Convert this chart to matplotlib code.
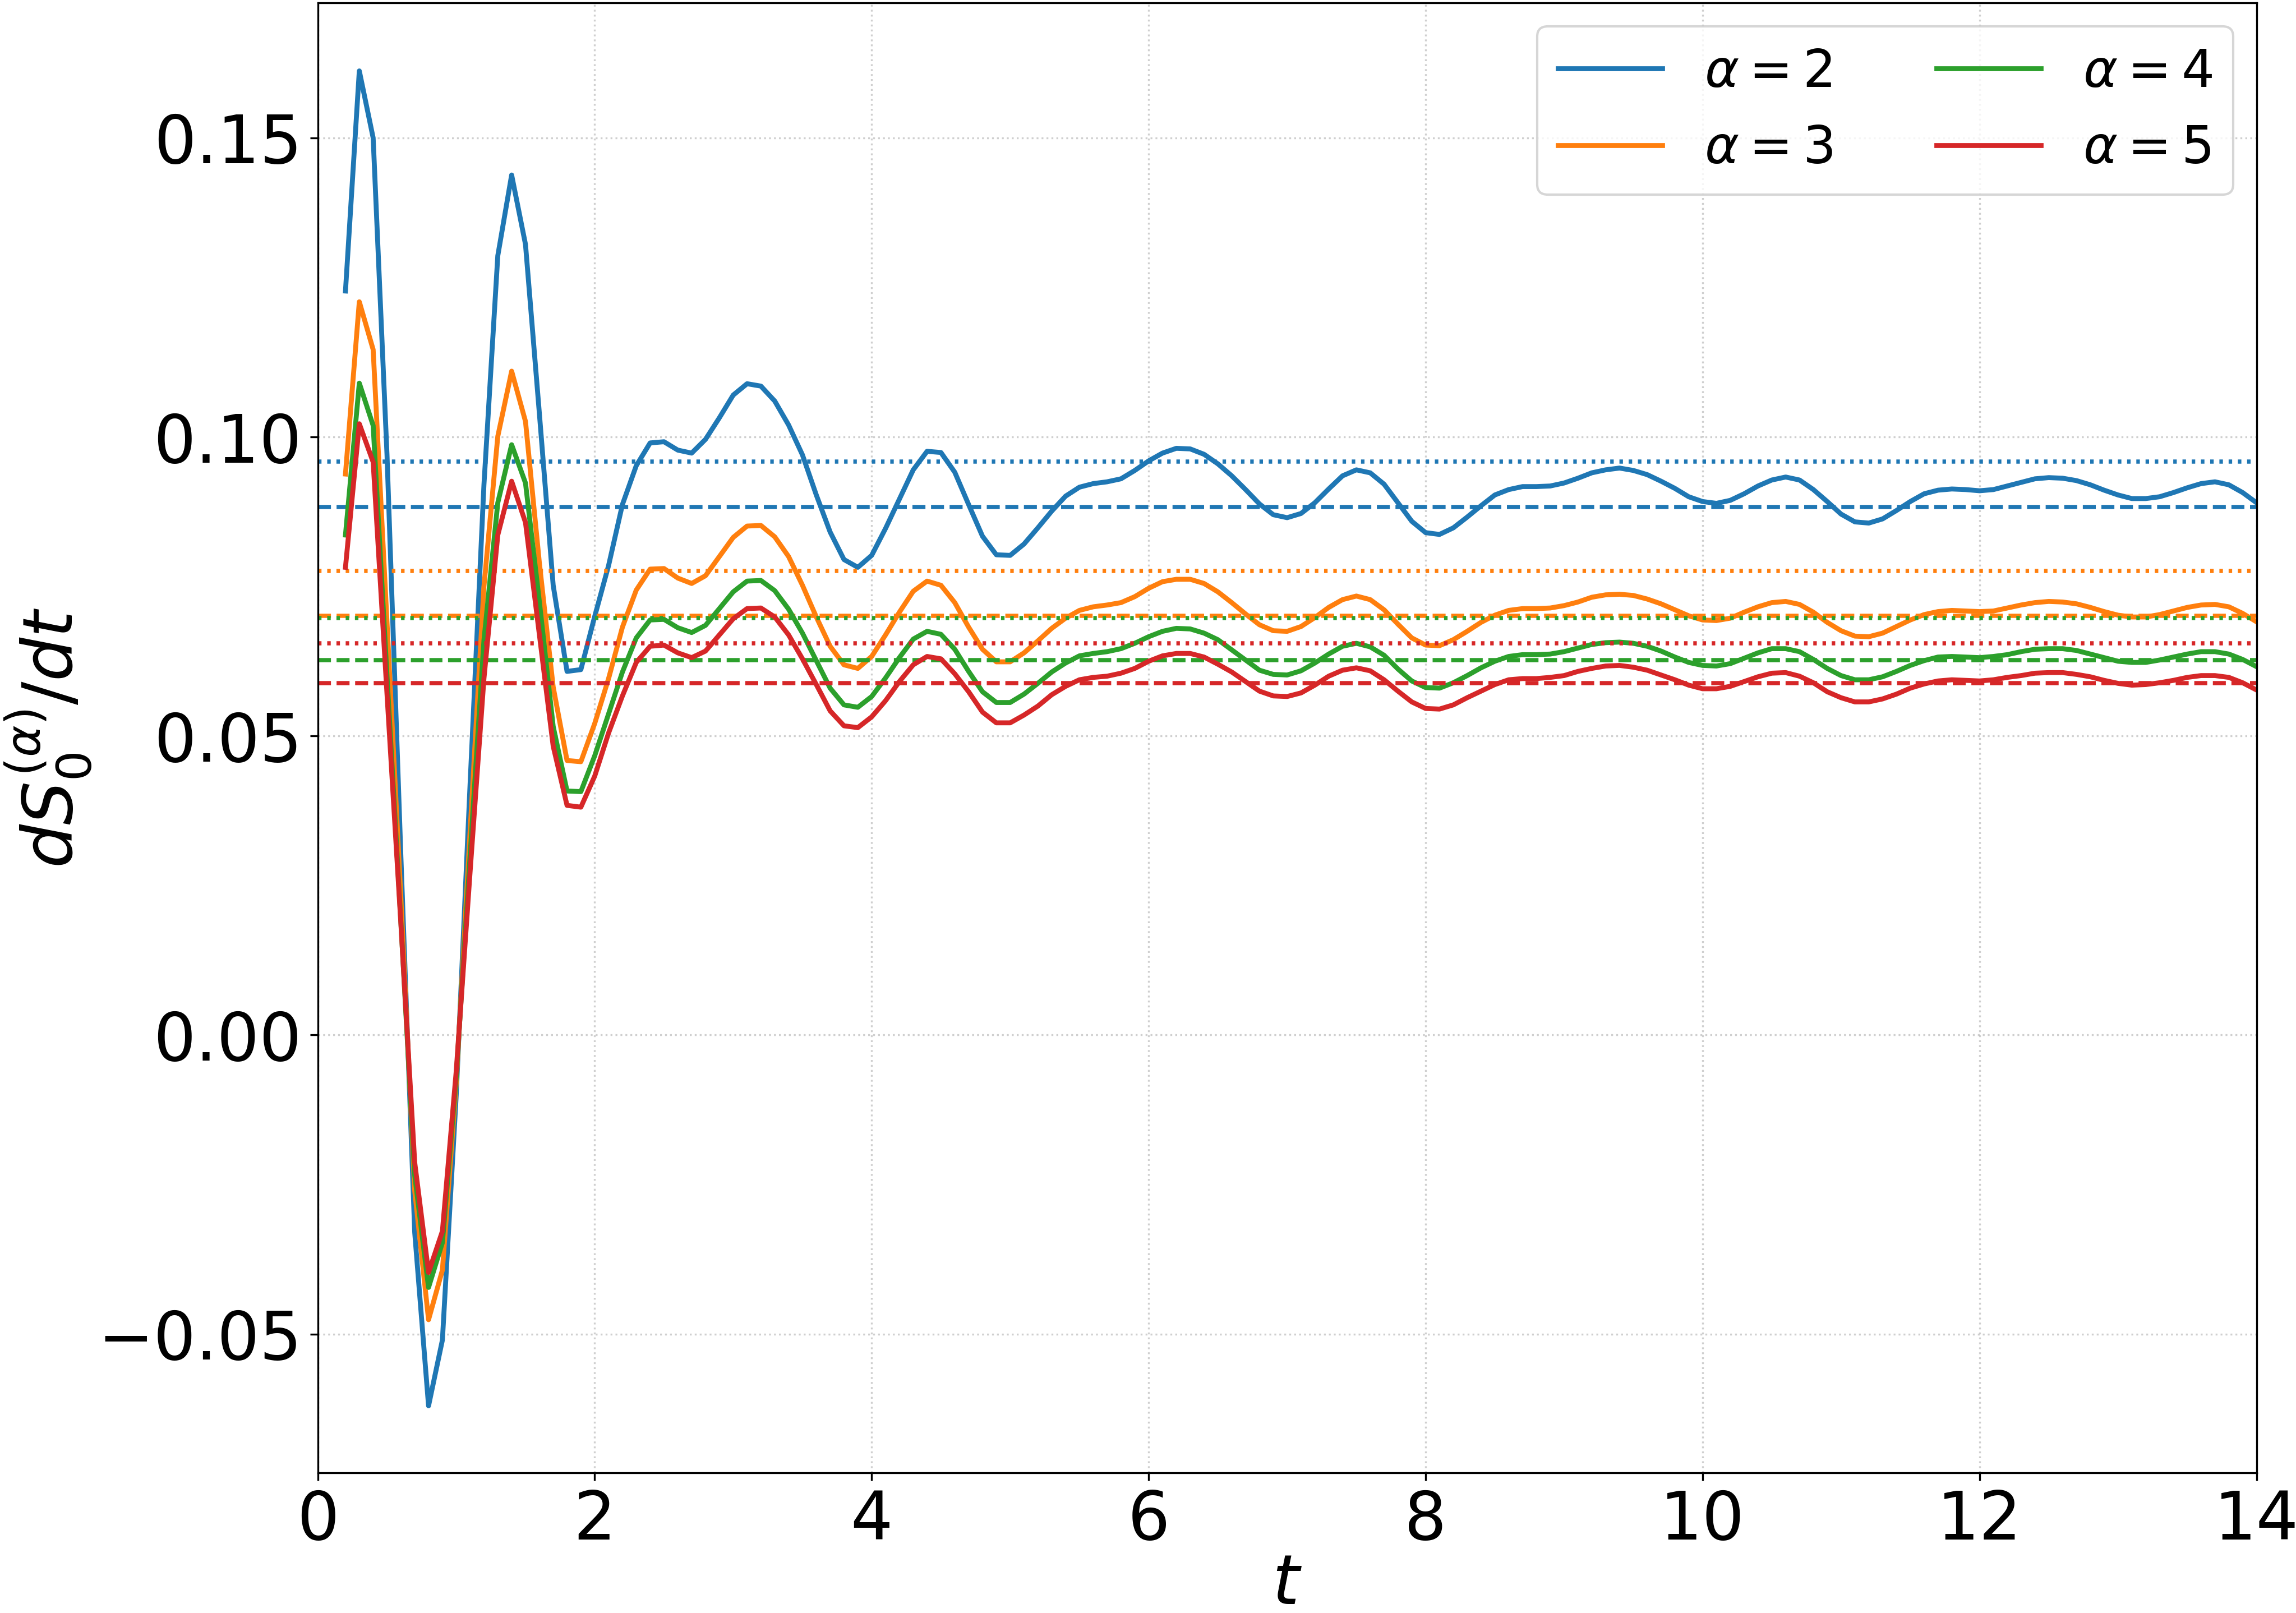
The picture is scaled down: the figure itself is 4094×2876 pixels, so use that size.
import numpy as np
import matplotlib
matplotlib.use("Agg")
import matplotlib.pyplot as plt

# time grid (t = 0.2 ... 14.0, step 0.1)
t = np.round(np.arange(2, 141) * 0.1, 1)

alpha_labels = [r"$\alpha = 2$", r"$\alpha = 3$", r"$\alpha = 4$", r"$\alpha = 5$"]

alpha2 = [
    0.1244, 0.1612, 0.1500, 0.0970, 0.0300, -0.0330, -0.0620, -0.0510, -0.0100, 0.0420,
    0.0920, 0.1303, 0.1438, 0.1322, 0.1040, 0.0752, 0.0608, 0.0611, 0.0700, 0.0785,
    0.0887, 0.0952, 0.0990, 0.0992, 0.0978, 0.0973, 0.0996, 0.1032, 0.1070, 0.1089,
    0.1085, 0.1060, 0.1020, 0.0970, 0.0903, 0.0841, 0.0795, 0.0782, 0.0802, 0.0847,
    0.0896, 0.0945, 0.0976, 0.0974, 0.0941, 0.0887, 0.0834, 0.0803, 0.0802, 0.0821,
    0.0848, 0.0876, 0.0901, 0.0916, 0.0922, 0.0925, 0.0930, 0.0944, 0.0960, 0.0973,
    0.0981, 0.0980, 0.0971, 0.0955, 0.0935, 0.0912, 0.0888, 0.0870, 0.0865, 0.0872,
    0.0890, 0.0913, 0.0935, 0.0945, 0.0940, 0.0921, 0.0890, 0.0859, 0.0840, 0.0837,
    0.0848, 0.0866, 0.0885, 0.0903, 0.0912, 0.0917, 0.0917, 0.0918, 0.0923, 0.0931,
    0.0940, 0.0945, 0.0948, 0.0944, 0.0937, 0.0926, 0.0914, 0.0900, 0.0892, 0.0889,
    0.0894, 0.0905, 0.0918, 0.0928, 0.0933, 0.0928, 0.0912, 0.0892, 0.0871, 0.0858,
    0.0856, 0.0863, 0.0877, 0.0892, 0.0905, 0.0911, 0.0913, 0.0912, 0.0910, 0.0912,
    0.0918, 0.0924, 0.0930, 0.0932, 0.0931, 0.0927, 0.0920, 0.0911, 0.0903, 0.0897,
    0.0897, 0.0900, 0.0907, 0.0915, 0.0922, 0.0925, 0.0920, 0.0907, 0.0890,
]

alpha3 = [
    0.0938, 0.1226, 0.1146, 0.0690, 0.0230, -0.0260, -0.0476, -0.0393, -0.0080, 0.0340,
    0.0750, 0.1001, 0.1110, 0.1026, 0.0790, 0.0582, 0.0459, 0.0457, 0.0521, 0.0596,
    0.0682, 0.0744, 0.0779, 0.0780, 0.0764, 0.0755, 0.0768, 0.0800, 0.0832, 0.0851,
    0.0852, 0.0833, 0.0800, 0.0752, 0.0699, 0.0650, 0.0619, 0.0613, 0.0633, 0.0669,
    0.0707, 0.0742, 0.0759, 0.0752, 0.0723, 0.0682, 0.0645, 0.0624, 0.0624, 0.0639,
    0.0659, 0.0680, 0.0697, 0.0710, 0.0716, 0.0719, 0.0723, 0.0733, 0.0747, 0.0758,
    0.0762, 0.0762, 0.0755, 0.0741, 0.0723, 0.0704, 0.0686, 0.0676, 0.0675, 0.0683,
    0.0698, 0.0715, 0.0728, 0.0734, 0.0728, 0.0711, 0.0687, 0.0664, 0.0652, 0.0651,
    0.0661, 0.0675, 0.0690, 0.0702, 0.0710, 0.0713, 0.0713, 0.0714, 0.0718, 0.0724,
    0.0732, 0.0736, 0.0737, 0.0735, 0.0729, 0.0721, 0.0711, 0.0701, 0.0694, 0.0693,
    0.0697, 0.0707, 0.0716, 0.0723, 0.0725, 0.0720, 0.0707, 0.0690, 0.0676, 0.0667,
    0.0666, 0.0672, 0.0683, 0.0694, 0.0703, 0.0708, 0.0710, 0.0709, 0.0708, 0.0709,
    0.0714, 0.0719, 0.0723, 0.0725, 0.0724, 0.0721, 0.0715, 0.0708, 0.0702, 0.0699,
    0.0699, 0.0703, 0.0709, 0.0715, 0.0719, 0.0720, 0.0716, 0.0705, 0.0691,
]

alpha4 = [
    0.0836, 0.1090, 0.1019, 0.0600, 0.0190, -0.0234, -0.0422, -0.0347, -0.0070, 0.0300,
    0.0660, 0.0890, 0.0987, 0.0923, 0.0725, 0.0516, 0.0408, 0.0407, 0.0467, 0.0537,
    0.0607, 0.0664, 0.0694, 0.0695, 0.0681, 0.0673, 0.0685, 0.0713, 0.0741, 0.0759,
    0.0760, 0.0743, 0.0712, 0.0672, 0.0626, 0.0580, 0.0552, 0.0548, 0.0566, 0.0597,
    0.0631, 0.0662, 0.0675, 0.0670, 0.0645, 0.0608, 0.0574, 0.0556, 0.0556, 0.0570,
    0.0588, 0.0607, 0.0622, 0.0634, 0.0638, 0.0641, 0.0646, 0.0655, 0.0666, 0.0675,
    0.0680, 0.0679, 0.0672, 0.0661, 0.0644, 0.0627, 0.0610, 0.0603, 0.0602, 0.0609,
    0.0622, 0.0637, 0.0650, 0.0655, 0.0649, 0.0635, 0.0612, 0.0592, 0.0581, 0.0580,
    0.0589, 0.0601, 0.0614, 0.0625, 0.0633, 0.0636, 0.0636, 0.0637, 0.0641, 0.0647,
    0.0653, 0.0656, 0.0657, 0.0655, 0.0650, 0.0642, 0.0632, 0.0623, 0.0618, 0.0617,
    0.0621, 0.0630, 0.0639, 0.0646, 0.0646, 0.0641, 0.0628, 0.0613, 0.0601, 0.0594,
    0.0594, 0.0599, 0.0608, 0.0618, 0.0626, 0.0632, 0.0633, 0.0632, 0.0631, 0.0633,
    0.0636, 0.0641, 0.0645, 0.0646, 0.0646, 0.0643, 0.0637, 0.0631, 0.0625, 0.0623,
    0.0623, 0.0627, 0.0632, 0.0637, 0.0641, 0.0641, 0.0637, 0.0628, 0.0616,
]

alpha5 = [
    0.0782, 0.1022, 0.0958, 0.0570, 0.0187, -0.0213, -0.0397, -0.0328, -0.0060, 0.0273,
    0.0596, 0.0836, 0.0926, 0.0857, 0.0670, 0.0483, 0.0384, 0.0381, 0.0433, 0.0505,
    0.0567, 0.0623, 0.0650, 0.0652, 0.0639, 0.0631, 0.0642, 0.0669, 0.0696, 0.0713,
    0.0714, 0.0699, 0.0669, 0.0629, 0.0586, 0.0542, 0.0517, 0.0514, 0.0532, 0.0559,
    0.0591, 0.0619, 0.0633, 0.0629, 0.0604, 0.0574, 0.0540, 0.0522, 0.0522, 0.0535,
    0.0550, 0.0569, 0.0583, 0.0594, 0.0598, 0.0600, 0.0605, 0.0613, 0.0625, 0.0634,
    0.0638, 0.0638, 0.0632, 0.0620, 0.0607, 0.0591, 0.0575, 0.0567, 0.0566, 0.0572,
    0.0585, 0.0600, 0.0610, 0.0614, 0.0609, 0.0594, 0.0575, 0.0557, 0.0546, 0.0545,
    0.0552, 0.0564, 0.0575, 0.0586, 0.0594, 0.0596, 0.0596, 0.0598, 0.0601, 0.0608,
    0.0613, 0.0617, 0.0618, 0.0615, 0.0610, 0.0602, 0.0594, 0.0585, 0.0579, 0.0579,
    0.0583, 0.0591, 0.0599, 0.0605, 0.0606, 0.0600, 0.0589, 0.0574, 0.0564, 0.0557,
    0.0557, 0.0562, 0.0570, 0.0580, 0.0587, 0.0592, 0.0594, 0.0593, 0.0592, 0.0594,
    0.0598, 0.0601, 0.0605, 0.0606, 0.0606, 0.0603, 0.0599, 0.0593, 0.0588, 0.0585,
    0.0586, 0.0589, 0.0593, 0.0598, 0.0601, 0.0601, 0.0598, 0.0589, 0.0577,
]

# horizontal reference levels (dotted = upper, dashed = lower)
ref_dotted = [0.0959, 0.0776, 0.0697, 0.0655]
ref_dashed = [0.0883, 0.0701, 0.0627, 0.0588]

series = [alpha2, alpha3, alpha4, alpha5]
colors = ["#1f77b4", "#ff7f0e", "#2ca02c", "#d62728"]

W, H, DPI = 4094, 2876, 300
fig = plt.figure(figsize=(W / DPI, H / DPI), dpi=DPI)
ax = fig.add_axes([0.1384, 0.0869, 0.8444, 0.9114])

LW_MAIN = 2.1
LW_REF = 1.8
dash_style = (0, (5.55 / LW_REF, 2.4 / LW_REF))
dot_style = (0, (1.5 / LW_REF, 2.45 / LW_REF))

for y, c, lab, yd, yk in zip(series, colors, alpha_labels, ref_dotted, ref_dashed):
    ax.plot(t, y, color=c, lw=LW_MAIN, label=lab)
    ax.axhline(yd, color=c, ls=dot_style, lw=LW_REF)
    ax.axhline(yk, color=c, ls=dash_style, lw=LW_REF)

ax.set_xlim(0, 14)
ax.set_ylim(-0.0732, 0.1726)
ax.set_xticks([0, 2, 4, 6, 8, 10, 12, 14])
ax.set_yticks([-0.05, 0.0, 0.05, 0.10, 0.15])
ax.set_yticklabels(["\u22120.05", "0.00", "0.05", "0.10", "0.15"])
ax.tick_params(labelsize=28.5, length=3.3)
ax.grid(True, linestyle=":", color="#b0b0b0", alpha=0.6, lw=0.8)

ax.set_xlabel(r"$t$", fontsize=29.5, labelpad=-1)
ax.set_ylabel(r"$dS_0^{(\alpha)}/dt$", fontsize=29.5, labelpad=2)

ax.legend(loc="upper right", ncol=2, fontsize=22.3, borderaxespad=0.45)

fig.savefig("out.png", dpi=DPI)
